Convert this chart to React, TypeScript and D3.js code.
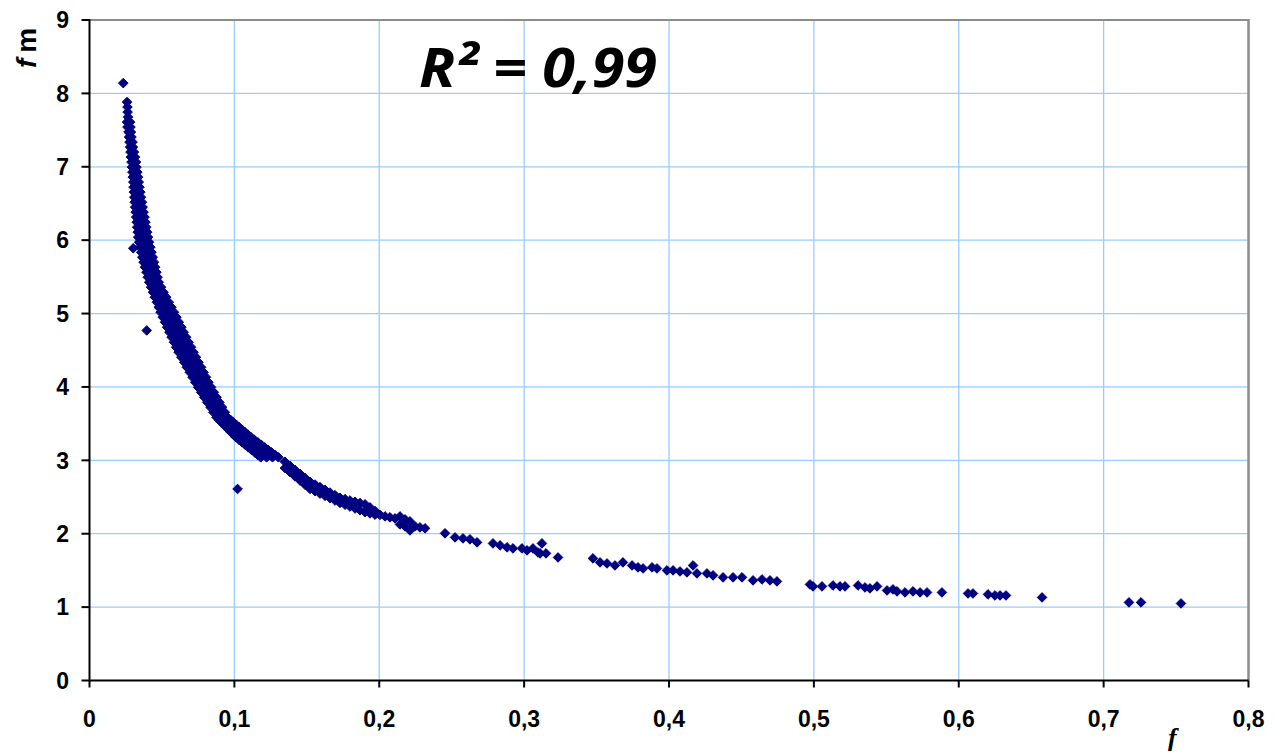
import React from 'react';
import * as d3 from 'd3';

const xTickValues = [0, 0.1, 0.2, 0.3, 0.4, 0.5, 0.6, 0.7, 0.8];
const xTickLabels = ['0', '0,1', '0,2', '0,3', '0,4', '0,5', '0,6', '0,7', '0,8'];
const yTickValues = [0, 1, 2, 3, 4, 5, 6, 7, 8, 9];
const yTickLabels = ['0', '1', '2', '3', '4', '5', '6', '7', '8', '9'];
const rSquaredLabel = 'R\u00B2 = 0,99';

// dense band: [fm, f values at that fm]
const bandRows: [number, number[]][] = [
  [7.882, [0.0259]],
  [7.814, [0.0262]],
  [7.745, [0.0263]],
  [7.677, [0.0266]],
  [7.609, [0.0259, 0.028]],
  [7.541, [0.0262, 0.0283]],
  [7.473, [0.0269, 0.0286]],
  [7.405, [0.0273, 0.029]],
  [7.336, [0.0276, 0.0297]],
  [7.268, [0.028, 0.03]],
  [7.2, [0.0283, 0.0307]],
  [7.132, [0.0286, 0.0314]],
  [7.064, [0.029, 0.0321]],
  [6.995, [0.0293, 0.0324]],
  [6.927, [0.0296, 0.033]],
  [6.859, [0.0299, 0.0335]],
  [6.791, [0.0302, 0.0321, 0.034]],
  [6.723, [0.0304, 0.0345]],
  [6.655, [0.0306, 0.0328, 0.0351]],
  [6.586, [0.0309, 0.0355]],
  [6.518, [0.0312, 0.0337, 0.0362]],
  [6.45, [0.0315, 0.0342, 0.0367]],
  [6.382, [0.0319, 0.0346, 0.0373]],
  [6.314, [0.0322, 0.0351, 0.038]],
  [6.245, [0.0326, 0.0355, 0.0386]],
  [6.177, [0.0329, 0.036, 0.0391]],
  [6.109, [0.0333, 0.0365, 0.0398]],
  [6.041, [0.0336, 0.0369, 0.0404]],
  [5.973, [0.0342, 0.0376, 0.0411]],
  [5.905, [0.0349, 0.0384, 0.042]],
  [5.836, [0.0357, 0.0392, 0.0428]],
  [5.768, [0.0364, 0.04, 0.0437]],
  [5.7, [0.0373, 0.0409, 0.0445]],
  [5.632, [0.0383, 0.0418, 0.0453]],
  [5.564, [0.0393, 0.0427, 0.0462]],
  [5.495, [0.0402, 0.0436, 0.047]],
  [5.427, [0.0412, 0.0445, 0.0478]],
  [5.359, [0.0425, 0.0459, 0.0494]],
  [5.291, [0.0438, 0.0475, 0.0511]],
  [5.223, [0.0451, 0.049, 0.0529]],
  [5.155, [0.0465, 0.0506, 0.0547]],
  [5.086, [0.0478, 0.0521, 0.0565]],
  [5.018, [0.0491, 0.052, 0.0551, 0.0583]],
  [4.95, [0.0506, 0.0537, 0.0569, 0.06]],
  [4.882, [0.0521, 0.0553, 0.0585, 0.0617]],
  [4.814, [0.0536, 0.0569, 0.0601, 0.0634]],
  [4.745, [0.0552, 0.0585, 0.0618, 0.065]],
  [4.677, [0.0567, 0.0601, 0.0634, 0.0667]],
  [4.609, [0.0583, 0.0616, 0.065, 0.0684]],
  [4.541, [0.0598, 0.0632, 0.0667, 0.0701]],
  [4.473, [0.0615, 0.065, 0.0683, 0.0718]],
  [4.405, [0.0634, 0.0668, 0.0702, 0.0735]],
  [4.336, [0.0654, 0.0687, 0.072, 0.0752]],
  [4.268, [0.0672, 0.0705, 0.0737, 0.077]],
  [4.2, [0.0692, 0.0723, 0.0755, 0.0787]],
  [4.132, [0.0711, 0.0742, 0.0773, 0.0804]],
  [4.064, [0.073, 0.0761, 0.0791, 0.0821]],
  [3.995, [0.075, 0.0779, 0.0809, 0.0839]],
  [3.927, [0.0771, 0.08, 0.0829, 0.0858]],
  [3.859, [0.0792, 0.082, 0.0848, 0.0877]],
  [3.791, [0.0813, 0.0841, 0.0868, 0.0896]],
  [3.723, [0.0835, 0.0861, 0.0888, 0.0915]],
  [3.655, [0.0855, 0.0881, 0.0908, 0.0934]],
  [3.586, [0.0877, 0.0902, 0.0927, 0.0953]],
  [3.552, [0.0893, 0.092, 0.0947, 0.0973]],
  [3.518, [0.091, 0.0938, 0.0966, 0.0993]],
  [3.484, [0.0927, 0.0956, 0.0985, 0.1013]],
  [3.45, [0.0944, 0.0974, 0.1004, 0.1034]],
  [3.416, [0.096, 0.0992, 0.1023, 0.1054]],
  [3.382, [0.0977, 0.101, 0.1042, 0.1074]],
  [3.348, [0.0994, 0.1028, 0.1061, 0.1095]],
  [3.314, [0.1011, 0.1046, 0.108, 0.1115]],
  [3.28, [0.1032, 0.1068, 0.1103, 0.1138]],
  [3.245, [0.1054, 0.109, 0.1126, 0.1162]],
  [3.211, [0.1075, 0.1112, 0.1149, 0.1186]],
  [3.177, [0.1097, 0.1134, 0.1172, 0.1209]],
  [3.143, [0.1118, 0.1156, 0.1195, 0.1232]],
  [3.109, [0.114, 0.1178, 0.1218, 0.1256]],
  [3.075, [0.1161, 0.12, 0.124, 0.128]],
  [3.041, [0.1182, 0.1222, 0.1263, 0.1304]],
];

// tail of the band: [f, fm values at that f]
const tailColumns: [number, number[]][] = [
  [0.1349, [2.98, 2.895]],
  [0.1384, [2.925, 2.839]],
  [0.1418, [2.87, 2.782]],
  [0.1453, [2.816, 2.725]],
  [0.1487, [2.761, 2.669]],
  [0.1522, [2.707, 2.611]],
  [0.1557, [2.67, 2.58]],
  [0.1591, [2.635, 2.547]],
  [0.1626, [2.598, 2.516]],
  [0.166, [2.561, 2.485]],
  [0.1695, [2.525, 2.452]],
  [0.1729, [2.489, 2.42]],
  [0.1764, [2.471, 2.395]],
  [0.1798, [2.453, 2.37]],
  [0.1833, [2.435, 2.344]],
  [0.1867, [2.418, 2.32]],
  [0.1902, [2.4, 2.294]],
  [0.1936, [2.359, 2.277]],
  [0.1971, [2.309, 2.26]],
  [0.2005, [2.257]],
  [0.204, [2.236]],
  [0.2074, [2.223]],
  [0.2109, [2.209]],
  [0.2143, [2.236, 2.127]],
  [0.2178, [2.195, 2.1]],
  [0.2212, [2.168, 2.045]],
  [0.2247, [2.1]],
  [0.2281, [2.086]],
  [0.2316, [2.073]],
];

// sparse points: [f, fm]
const sparsePoints: [number, number][] = [
  [0.2454, 2.005], [0.2523, 1.95], [0.2578, 1.936], [0.2626, 1.923], [0.2675, 1.882],
  [0.2785, 1.868], [0.2834, 1.841], [0.2882, 1.814], [0.2923, 1.8], [0.2985, 1.8],
  [0.302, 1.773], [0.3061, 1.8], [0.3096, 1.745], [0.3123, 1.868], [0.311, 1.732],
  [0.3151, 1.732], [0.3234, 1.677], [0.3475, 1.664], [0.3524, 1.609], [0.3572, 1.595],
  [0.3627, 1.568], [0.3682, 1.609], [0.3745, 1.568], [0.3786, 1.541], [0.3821, 1.527],
  [0.3883, 1.541], [0.3917, 1.527], [0.3986, 1.5], [0.4028, 1.5], [0.4076, 1.486],
  [0.4124, 1.473], [0.4166, 1.568], [0.4193, 1.459], [0.4262, 1.459], [0.4304, 1.432],
  [0.4373, 1.405], [0.4442, 1.405], [0.4504, 1.405], [0.458, 1.364], [0.4642, 1.377],
  [0.4697, 1.364], [0.4745, 1.35], [0.4973, 1.309], [0.4994, 1.282], [0.5056, 1.282],
  [0.5132, 1.295], [0.518, 1.282], [0.5215, 1.282], [0.5305, 1.295], [0.5353, 1.268],
  [0.5387, 1.255], [0.5436, 1.282], [0.5505, 1.227], [0.5546, 1.241], [0.5574, 1.214],
  [0.5629, 1.2], [0.5684, 1.214], [0.5733, 1.2], [0.5781, 1.2], [0.5884, 1.2],
  [0.6064, 1.186], [0.6098, 1.186], [0.6202, 1.173], [0.625, 1.159], [0.6285, 1.159],
  [0.6326, 1.159], [0.6575, 1.132], [0.7175, 1.064], [0.7258, 1.064], [0.7534, 1.05],
];

const outlierPoints: [number, number][] = [
  [0.0233, 8.14], [0.0302, 5.89], [0.0395, 4.77], [0.1022, 2.61],
];

const W = 1281;
const H = 754;
const NAVY = '#000080';
const GRID = '#99ccff';
const diamond = 'M0,-4.8L4.8,0L0,4.8L-4.8,0Z';

export default function App() {
  const x = d3.scaleLinear().domain([0, 0.8]).range([89.5, 1248.5]);
  const y = d3.scaleLinear().domain([0, 9]).range([680.5, 20]);

  const points: [number, number][] = [];
  bandRows.forEach(([fm, fs]) => fs.forEach((f) => points.push([f, fm])));
  tailColumns.forEach(([f, fms]) => fms.forEach((fm) => points.push([f, fm])));
  sparsePoints.forEach((p) => points.push(p));
  outlierPoints.forEach((p) => points.push(p));

  const x0 = x(0), x1 = x(0.8), y0 = y(0), y1 = y(9);
  const sans = '"Liberation Sans", Arial, sans-serif';

  return (
    <svg width={W} height={H} style={{ position: 'absolute', left: 0, top: 0, display: 'block', background: '#fff' }}>
      <rect x={0} y={0} width={W} height={H} fill="#fff" />
      {/* gridlines */}
      {xTickValues.slice(1, -1).map((v) => (
        <line key={'gx' + v} x1={x(v)} x2={x(v)} y1={y1} y2={y0} stroke={GRID} strokeWidth={1.3} />
      ))}
      {yTickValues.slice(1, -1).map((v) => (
        <line key={'gy' + v} x1={x0} x2={x1} y1={y(v)} y2={y(v)} stroke={GRID} strokeWidth={1.3} />
      ))}
      {/* border top/right */}
      <line x1={x0} x2={x1} y1={y1} y2={y1} stroke="#8c8c8c" strokeWidth={2} />
      <line x1={x1} x2={x1} y1={y1 - 1} y2={y0} stroke="#8c8c8c" strokeWidth={2.5} />
      {/* axes */}
      <line x1={x0} x2={x0} y1={y1 - 1} y2={y0 + 1} stroke="#000" strokeWidth={2} />
      <line x1={x0} x2={x1} y1={y0} y2={y0} stroke="#000" strokeWidth={2} />
      {yTickValues.map((v, i) => (
        <g key={'yt' + v}>
          <line x1={x0 - 8} x2={x0} y1={y(v)} y2={y(v)} stroke="#000" strokeWidth={2} />
          <text x={69} y={y(v) + 8.3} textAnchor="end" fontFamily={sans} fontWeight="bold" fontSize={23} fill="#000">
            {yTickLabels[i]}
          </text>
        </g>
      ))}
      {xTickValues.map((v, i) => (
        <g key={'xt' + v}>
          <line x1={x(v)} x2={x(v)} y1={y0} y2={y0 + 7} stroke="#000" strokeWidth={2} />
          <text x={x(v)} y={727} textAnchor="middle" fontFamily={sans} fontWeight="bold" fontSize={23} fill="#000">
            {xTickLabels[i]}
          </text>
        </g>
      ))}
      {/* points */}
      <g fill={NAVY} stroke={NAVY} strokeWidth={1} strokeLinejoin="round">
        {points.map(([f, fm], i) => (
          <path key={i} d={diamond} transform={`translate(${x(f)},${y(fm)})`} />
        ))}
      </g>
      {/* R squared */}
      <text x={419} y={87} fontFamily='"Open Sans", sans-serif' fontWeight="bold" fontStyle="italic" fontSize={54} fill="#000" textLength={238} lengthAdjust="spacingAndGlyphs">
        {rSquaredLabel}
      </text>
      {/* axis titles */}
      <text transform="translate(36,68) rotate(-90)" fontSize={28} fontWeight="bold" fill="#000" fontFamily={sans}>
        <tspan fontStyle="italic">f</tspan>
        <tspan dx={6}>m</tspan>
      </text>
      <text x={1168} y={746} fontFamily='"Liberation Serif", serif' fontStyle="italic" fontWeight="bold" fontSize={26} fill="#000">
        f
      </text>
    </svg>
  );
}
